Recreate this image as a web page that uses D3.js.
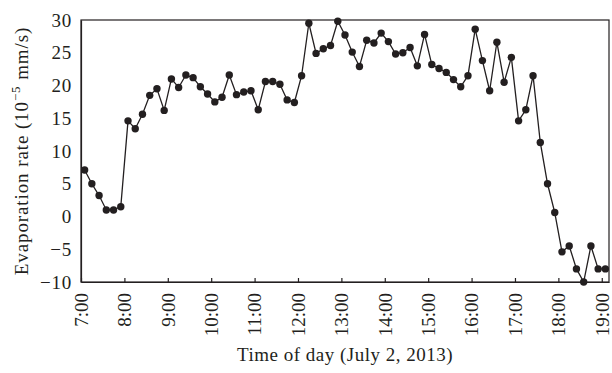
<!DOCTYPE html>
<html><head><meta charset="utf-8">
<script src="https://cdn.jsdelivr.net/npm/d3@7"></script>
<style>
html,body{margin:0;padding:0;background:#fff;}
svg{display:block;}
text{font-family:"Liberation Serif","Times New Roman",serif;fill:#231f20;}
</style></head>
<body><svg id="chart" width="612" height="373"></svg>
<script>
const times = ["7:05","7:15","7:25","7:35","7:45","7:55",
"8:05","8:15","8:25","8:35","8:45","8:55",
"9:05","9:15","9:25","9:35","9:45","9:55",
"10:05","10:15","10:25","10:35","10:45","10:55",
"11:05","11:15","11:25","11:35","11:45","11:55",
"12:05","12:15","12:25","12:35","12:45","12:55",
"13:05","13:15","13:25","13:35","13:45","13:55",
"14:05","14:15","14:25","14:35","14:45","14:55",
"15:05","15:15","15:25","15:35","15:45","15:55",
"16:05","16:15","16:25","16:35","16:45","16:55",
"17:05","17:15","17:25","17:35","17:45","17:55",
"18:05","18:15","18:25","18:35","18:45","18:55",
"19:05"];
const rates = [7.1,5.0,3.2,1.0,1.0,1.5,
14.6,13.4,15.6,18.5,19.5,16.2,
21.0,19.7,21.6,21.2,19.8,18.7,
17.5,18.2,21.6,18.6,19.0,19.2,
16.3,20.6,20.6,20.2,17.8,17.4,
21.5,29.5,24.9,25.6,26.1,29.8,
27.7,25.1,22.9,26.9,26.5,28.0,
26.7,24.8,25.0,25.8,23.0,27.8,
23.2,22.6,22.0,20.9,19.8,21.5,
28.6,23.8,19.2,26.6,20.5,24.3,
14.6,16.3,21.5,11.3,5.0,0.6,
-5.4,-4.5,-8.0,-10.0,-4.5,-8.0,
-8.0];
const xTickLabels = ["7:00","8:00","9:00","10:00","11:00","12:00","13:00","14:00","15:00","16:00","17:00","18:00","19:00"];
const yTicks = [-10,-5,0,5,10,15,20,25,30];
const xDomain = ["7:00","19:10"];
const yDomain = [-10,30];

const toMin = s => { const [h,m] = s.split(":").map(Number); return h*60+m; };
const data = times.map((t,i)=>({x:toMin(t), y:rates[i]}));

const svg = d3.select("#chart");
const m = {left:81, right:3, top:20, bottom:91};
const W = 612, H = 373;
const FS = 19;
const x = d3.scaleLinear().domain(xDomain.map(toMin)).range([m.left, W-m.right]);
const y = d3.scaleLinear().domain(yDomain).range([H-m.bottom, m.top]);

// frame
svg.append("rect").attr("x",m.left).attr("y",m.top)
  .attr("width",W-m.right-m.left).attr("height",H-m.bottom-m.top)
  .attr("fill","none").attr("stroke","#231f20").attr("stroke-width",1.2);

// x axis
const xAxis = d3.axisBottom(x).tickValues(xTickLabels.map(toMin))
  .tickFormat((d,i)=>xTickLabels[i]).tickSizeInner(-4).tickSizeOuter(0).tickPadding(11);
const gx = svg.append("g").attr("transform",`translate(0,${H-m.bottom})`).call(xAxis);
gx.select(".domain").attr("stroke","#231f20").attr("stroke-width",1.2);
gx.selectAll(".tick line").attr("stroke","#231f20").attr("stroke-width",1.2);
gx.selectAll(".tick text")
  .attr("font-size",FS).attr("fill","#231f20")
  .attr("transform","rotate(-90)")
  .attr("text-anchor","end").attr("dy","0.33em")
  .attr("x",-11).attr("y",0);

// y axis
const yAxis = d3.axisLeft(y).tickValues(yTicks)
  .tickFormat(d=> d<0 ? "\u2212"+Math.abs(d) : String(d)).tickSize(0).tickPadding(9);
const gy = svg.append("g").attr("transform",`translate(${m.left},0)`).call(yAxis);
gy.select(".domain").attr("stroke","#231f20").attr("stroke-width",1.2);
gy.selectAll(".tick text").attr("font-size",FS).attr("fill","#231f20").attr("letter-spacing",0.8);

// line
svg.append("path").datum(data)
  .attr("fill","none").attr("stroke","#231f20").attr("stroke-width",1.3)
  .attr("d", d3.line().x(d=>x(d.x)).y(d=>y(d.y)));
svg.append("g").selectAll("circle").data(data).join("circle")
  .attr("cx",d=>x(d.x)).attr("cy",d=>y(d.y)).attr("r",3.7).attr("fill","#231f20");

// titles
svg.append("text").attr("x",(m.left+W-m.right)/2).attr("y",361)
  .attr("text-anchor","middle").attr("font-size",FS).attr("letter-spacing",0.5)
  .text("Time of day (July 2, 2013)");
const yt = svg.append("text").attr("transform",`translate(28,${(m.top+H-m.bottom)/2}) rotate(-90)`)
  .attr("text-anchor","middle").attr("font-size",FS).attr("letter-spacing",0.9);
yt.append("tspan").text("Evaporation rate (10");
yt.append("tspan").attr("dy",-8).attr("font-size",13).text("\u22125");
yt.append("tspan").attr("dy",8).text(" mm/s)");
</script></body></html>
